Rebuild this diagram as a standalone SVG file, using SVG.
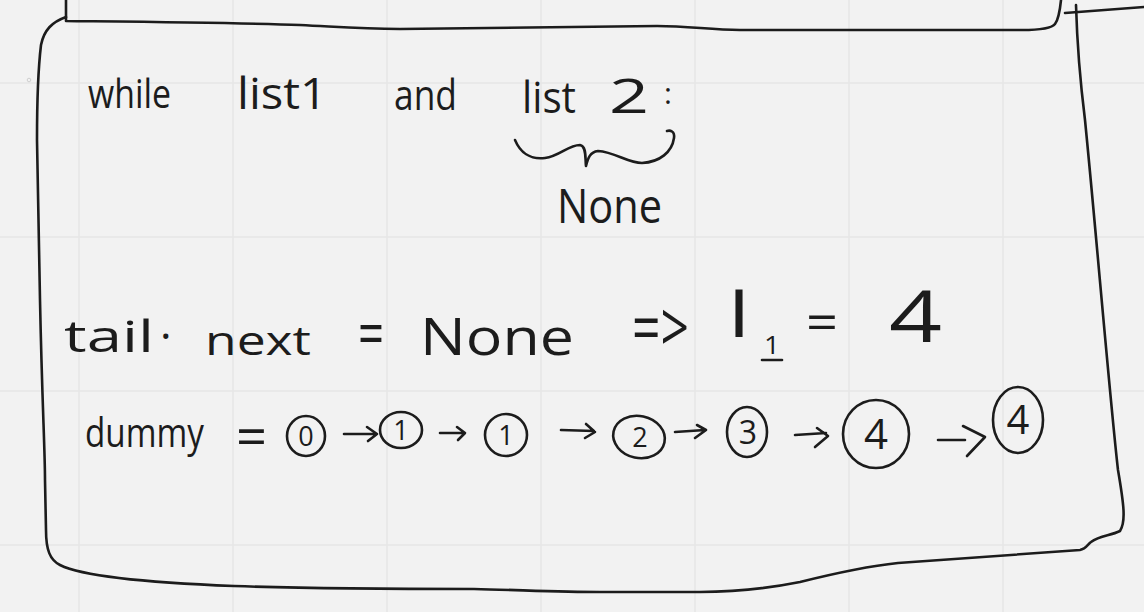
<svg xmlns="http://www.w3.org/2000/svg" width="1144" height="612" viewBox="0 0 1144 612">
<style>
.ink{fill:none;stroke:#1c1c1c;stroke-width:2.6;stroke-linecap:round;stroke-linejoin:round}
.grid{stroke:#e6e6e6;stroke-width:1.5}
.hw{font-family:"Open Sans","Liberation Sans",sans-serif;font-weight:400;fill:#1c1c1c}
.dg{font-family:"Open Sans","Liberation Sans",sans-serif;font-weight:400;fill:#1c1c1c;text-anchor:middle}
</style>
<rect width="1144" height="612" fill="#f2f2f2"/>
<g id="grid">
<line class="grid" x1="79" y1="0" x2="79" y2="612"/>
<line class="grid" x1="233" y1="0" x2="233" y2="612"/>
<line class="grid" x1="387" y1="0" x2="387" y2="612"/>
<line class="grid" x1="541" y1="0" x2="541" y2="612"/>
<line class="grid" x1="695" y1="0" x2="695" y2="612"/>
<line class="grid" x1="849" y1="0" x2="849" y2="612"/>
<line class="grid" x1="1003" y1="0" x2="1003" y2="612"/>
<line class="grid" x1="0" y1="83" x2="1144" y2="83"/>
<line class="grid" x1="0" y1="237" x2="1144" y2="237"/>
<line class="grid" x1="0" y1="391" x2="1144" y2="391"/>
<line class="grid" x1="0" y1="545" x2="1144" y2="545"/>
<circle cx="29" cy="80" r="1.8" fill="none" stroke="#cfcfcf" stroke-width="1"/>
</g>
<g id="frames">
<path class="ink" d="M66,0 L66,21 C150,22 250,23 300,25 C340,27 360,29 400,29 L657,26 C690,26 710,30 740,30 L1022,30 C1040,30 1052,28 1055,24 C1058,20 1060,10 1061,0"/>
<path class="ink" d="M1065,13 L1144,7"/>
<path class="ink" d="M66,17 C52,22 44,30 41,45 C38,70 37,110 37,140 L40,300 C42,400 45,450 45,480 L46,530 C46,550 50,560 60,565 C80,575 130,582 234,586 C320,589 400,589 474,589 C520,590 560,592 600,592 L700,592 C740,592 770,588 800,582 C840,572 870,566 898,563 L1080,550 C1086,549 1088,544 1091,542 C1100,535 1110,536 1120,531 C1126,522 1124,505 1118,470 C1110,400 1095,220 1085,120 C1080,80 1077,40 1076,5"/>
</g>
<g id="line1">
<text class="hw" x="88" y="108" font-size="40" textLength="83" lengthAdjust="spacingAndGlyphs">while</text>
<text class="hw" x="237" y="109" font-size="44" textLength="90" lengthAdjust="spacingAndGlyphs">list1</text>
<text class="hw" x="394" y="110" font-size="42" textLength="63" lengthAdjust="spacingAndGlyphs">and</text>
<text class="hw" x="522" y="113" font-size="44" textLength="54" lengthAdjust="spacingAndGlyphs">list</text>
<text class="hw" x="609" y="113" font-size="48" textLength="40" lengthAdjust="spacingAndGlyphs">2</text>
<text class="hw" x="664" y="104" font-size="30">:</text>
<path class="ink" d="M515,140 C520,152 530,160 545,158 C560,156 568,145 580,145 C587,146 585,160 586,166 C588,158 590,152 598,151 C615,152 628,163 642,163 C660,162 672,152 674,138 C675,131 670,130 667,131"/>
<text class="hw" x="557" y="223" font-size="48" textLength="105" lengthAdjust="spacingAndGlyphs">None</text>
</g>
<g id="line2">
<text class="hw" x="64" y="352" font-size="44" textLength="90" lengthAdjust="spacingAndGlyphs">tail</text>
<text class="hw" x="160" y="352" font-size="44">·</text>
<text class="hw" x="205" y="355" font-size="40" textLength="106" lengthAdjust="spacingAndGlyphs">next</text>
<text class="hw" x="358" y="356" font-size="64" textLength="26" lengthAdjust="spacingAndGlyphs">=</text>
<text class="hw" x="420" y="355" font-size="52" textLength="154" lengthAdjust="spacingAndGlyphs">None</text>
<text class="hw" x="632" y="352" font-size="70" textLength="57" lengthAdjust="spacingAndGlyphs">=&gt;</text>
<text class="hw" x="728" y="337" font-size="62" textLength="22" lengthAdjust="spacingAndGlyphs">l</text>
<text class="hw" x="764" y="354" font-size="26" textLength="16" lengthAdjust="spacingAndGlyphs">1</text>
<path class="ink" d="M762,360 L782,360"/>
<text class="hw" x="806" y="340" font-size="52" textLength="32" lengthAdjust="spacingAndGlyphs">=</text>
<text class="hw" x="889" y="342" font-size="72" textLength="53" lengthAdjust="spacingAndGlyphs">4</text>
</g>
<g id="line3">
<text class="hw" x="85" y="447" font-size="40" textLength="119" lengthAdjust="spacingAndGlyphs">dummy</text>
<text class="hw" x="236" y="456" font-size="54" textLength="31" lengthAdjust="spacingAndGlyphs">=</text>
</g>
<g id="node0">
<ellipse class="ink" cx="306" cy="436" rx="19" ry="20"/>
<text class="dg" x="306" y="446" font-size="27">0</text>
</g>
<g id="node1">
<ellipse class="ink" cx="401" cy="430" rx="21" ry="18"/>
<text class="dg" x="401" y="440" font-size="27">1</text>
</g>
<g id="node2">
<ellipse class="ink" cx="506" cy="435" rx="21" ry="21"/>
<text class="dg" x="506" y="445" font-size="27">1</text>
</g>
<g id="node3">
<ellipse class="ink" cx="639" cy="437" rx="26" ry="21" transform="rotate(12 639 437)"/>
<text class="dg" x="640" y="447" font-size="27">2</text>
</g>
<g id="node4">
<ellipse class="ink" cx="747" cy="432" rx="20" ry="25"/>
<text class="dg" x="748" y="444" font-size="32">3</text>
</g>
<g id="node5">
<ellipse class="ink" cx="876" cy="434" rx="33" ry="34"/>
<text class="dg" x="876" y="449" font-size="42">4</text>
</g>
<g id="node6">
<ellipse class="ink" cx="1018" cy="420" rx="25" ry="33"/>
<text class="dg" x="1018" y="434" font-size="40">4</text>
</g>
<g id="connectors">
<path class="ink" d="M344,434 L377,434 M367,427 L377,434 L368,441"/>
<path class="ink" d="M440,433 L464,433 M457,427 L465,433 L458,440"/>
<path class="ink" d="M561,430 L594,431 M586,424 L595,432 L585,438"/>
<path class="ink" d="M675,432 L705,430 M697,425 L706,430 L695,438"/>
<path class="ink" d="M795,435 L826,433 M817,428 L828,436 L815,447"/>
<path class="ink" d="M938,440 L965,440 M963,426 L985,437 L967,456"/>
</g>
</svg>
